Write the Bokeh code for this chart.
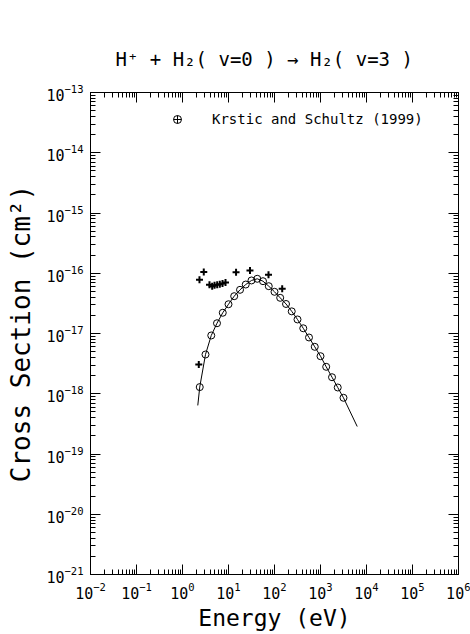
from bokeh.plotting import figure
from bokeh.models import (Range1d, FixedTicker, LogTicker, LogAxis, LogTickFormatter, Legend,
                          LegendItem, CustomJSTickFormatter, ColumnDataSource)
from bokeh.embed import file_html
from bokeh.resources import INLINE

# ---------------- texts ----------------
title_text = "H⁺  +  H₂( v=0 )  →  H₂( v=3 )"
x_label = "Energy (eV)"
y_label = "Cross Section (cm²)"
legend_label = "Krstic and Schultz (1999)"

# ---------------- data ----------------
# Krstic and Schultz (1999) points (open circles)
ks_energy = [2.37, 3.16, 4.22, 5.62, 7.50, 10.0, 13.3, 17.8, 23.7, 31.6, 42.2, 56.2, 75.0,
             100, 133, 178, 237, 316, 422, 562, 750, 1000, 1330, 1780, 2370, 3160]
ks_sigma = [1.29e-18, 4.48e-18, 9.27e-18, 1.48e-17, 2.21e-17, 3.06e-17, 4.16e-17, 5.31e-17,
            6.50e-17, 7.59e-17, 8.09e-17, 7.38e-17, 6.10e-17, 4.92e-17, 3.91e-17, 3.09e-17,
            2.33e-17, 1.71e-17, 1.22e-17, 8.59e-18, 6.01e-18, 4.20e-18, 2.80e-18, 1.88e-18,
            1.27e-18, 8.57e-19]

# fitted curve (solid line)
fit_energy = [2.15, 2.37, 3.16, 4.22, 5.62, 7.50, 10.0, 13.3, 17.8, 23.7, 31.6, 42.2, 56.2, 75.0,
              100, 133, 178, 237, 316, 422, 562, 750, 1000, 1330, 1780, 2370, 3160, 6280]
fit_sigma = [6.4e-19, 1.29e-18, 4.48e-18, 9.27e-18, 1.48e-17, 2.21e-17, 3.06e-17, 4.16e-17, 5.31e-17,
             6.50e-17, 7.59e-17, 8.09e-17, 7.38e-17, 6.10e-17, 4.92e-17, 3.91e-17, 3.09e-17,
             2.33e-17, 1.71e-17, 1.22e-17, 8.59e-18, 6.01e-18, 4.20e-18, 2.80e-18, 1.88e-18,
             1.27e-18, 8.57e-19, 2.86e-19]

# other data set (plus markers)
other_energy = [2.26, 2.34, 2.90, 3.86, 4.42, 4.97, 5.68, 6.47, 7.41, 8.61, 14.6, 29.3, 74.1, 147]
other_sigma = [3.05e-18, 7.78e-17, 1.05e-16, 6.43e-17, 6.09e-17, 6.34e-17, 6.43e-17, 6.58e-17,
               6.76e-17, 7.02e-17, 1.04e-16, 1.11e-16, 9.42e-17, 5.52e-17]

# axis ticks
x_exponents = [-2, -1, 0, 1, 2, 3, 4, 5, 6]
y_exponents = [-21, -20, -19, -18, -17, -16, -15, -14, -13]

x_major = [10.0 ** e for e in x_exponents]
y_major = [10.0 ** e for e in y_exponents]
x_minor = [m * 10.0 ** e for e in x_exponents[:-1] for m in range(2, 10)]
y_minor = [m * 10.0 ** e for e in y_exponents[:-1] for m in range(2, 10)]

FONT = "DejaVu Sans Mono"

p = figure(width=470, height=634,
           x_axis_type="log", y_axis_type="log",
           x_range=Range1d(x_major[0], x_major[-1]),
           y_range=Range1d(y_major[0], y_major[-1]),
           output_backend="svg", toolbar_location=None,
           min_border_left=90, min_border_right=12,
           min_border_top=92, min_border_bottom=60)

p.background_fill_color = "white"
p.border_fill_color = "white"
p.outline_line_color = "black"
p.outline_line_width = 1
p.grid.visible = False

p.title.text = title_text
p.title.align = "left"
p.title.offset = 25
p.title.text_font = FONT
p.title.text_font_size = "19px"
p.title.text_font_style = "normal"
p.title.text_color = "black"
p.title.standoff = 46


def style_axis(ax, ticker, show_labels):
    ax.ticker = ticker
    ax.axis_line_color = "black"
    ax.major_tick_line_color = "black"
    ax.minor_tick_line_color = "black"
    ax.major_tick_in = 10
    ax.major_tick_out = 0
    ax.minor_tick_in = 5
    ax.minor_tick_out = 0
    if show_labels:
        ax.formatter = LogTickFormatter(ticker=LogTicker())
        ax.major_label_text_font = FONT
        ax.major_label_text_font_size = "15px"
        ax.major_label_text_color = "black"
        ax.axis_label_text_font = FONT
        ax.axis_label_text_font_style = "normal"
        ax.axis_label_text_color = "black"
    else:
        ax.formatter = CustomJSTickFormatter(code="return ''")
        ax.major_label_standoff = 0


xt = FixedTicker(ticks=x_major, minor_ticks=x_minor)
yt = FixedTicker(ticks=y_major, minor_ticks=y_minor)

xa = p.xaxis[0]
ya = p.yaxis[0]
style_axis(xa, xt, True)
style_axis(ya, yt, True)
xa.axis_label = x_label
xa.axis_label_text_font_size = "23px"
xa.major_label_standoff = 7
xa.axis_label_standoff = 3
ya.axis_label = y_label
ya.axis_label_text_font_size = "26px"
ya.major_label_standoff = 7
ya.axis_label_standoff = 7

top_ax = LogAxis()
right_ax = LogAxis()
style_axis(top_ax, FixedTicker(ticks=x_major, minor_ticks=x_minor), False)
style_axis(right_ax, FixedTicker(ticks=y_major, minor_ticks=y_minor), False)
p.add_layout(top_ax, "above")
p.add_layout(right_ax, "right")

# fitted curve
p.line(fit_energy, fit_sigma, line_color="black", line_width=1)

# other data set
p.scatter(other_energy, other_sigma, marker="cross", size=7, line_width=2, line_color="black")

# Krstic and Schultz points
ks_src = ColumnDataSource(data=dict(x=ks_energy, y=ks_sigma))
circ = p.scatter("x", "y", source=ks_src, marker="circle", size=7,
                 fill_color=None, line_color="black", line_width=1)
# legend-only symbol (circle with cross), hidden in the plot itself
legend_sym = p.scatter("x", "y", source=ks_src, marker="circle_cross", size=8,
                       fill_color=None, line_color="black", line_width=1, visible=False)

legend = Legend(items=[LegendItem(label=legend_label, renderers=[legend_sym])],
                location=(77, 445), border_line_color=None, background_fill_alpha=0,
                padding=0, margin=0, spacing=0, label_standoff=25,
                glyph_width=20, glyph_height=20, inactive_fill_alpha=0,
                label_text_font=FONT, label_text_font_size="14px", label_text_color="black")
p.add_layout(legend)

open("out.html", "w").write(file_html(p, INLINE))
